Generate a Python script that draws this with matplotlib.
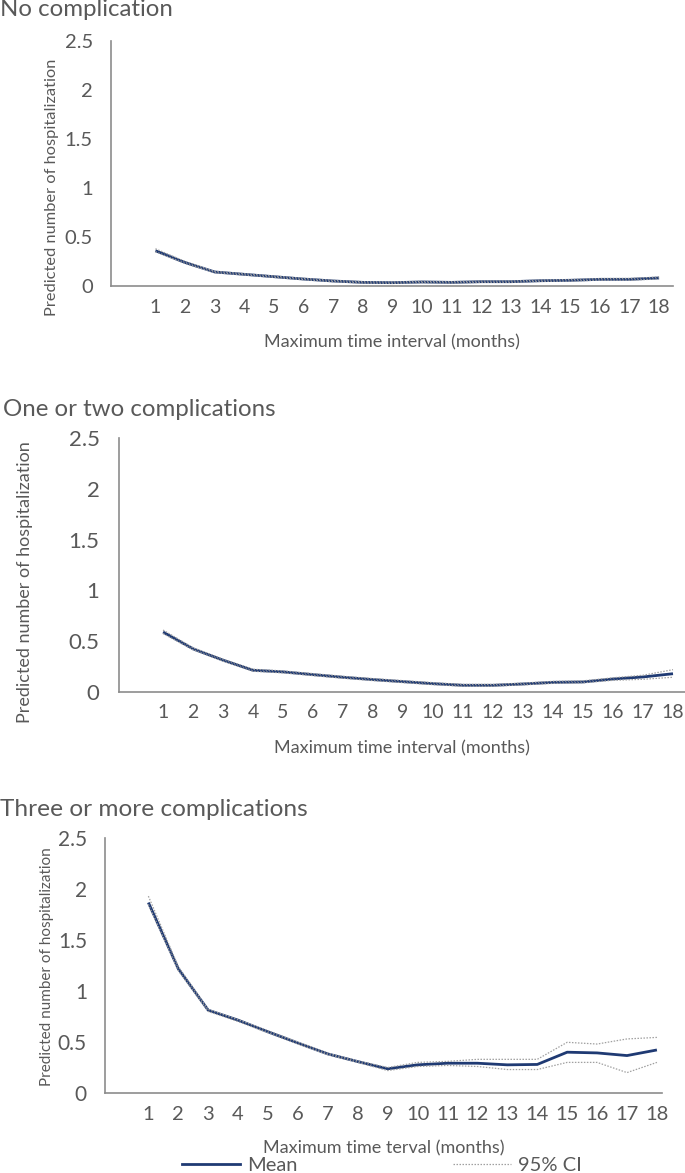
import matplotlib
matplotlib.use("Agg")
import matplotlib.pyplot as plt
from matplotlib.lines import Line2D

plt.rcParams['font.family'] = ['Lato', 'DejaVu Sans']

months = list(range(1, 19))

titles = ["No complication", "One or two complications", "Three or more complications"]
xlabels = ["Maximum time interval (months)", "Maximum time interval (months)",
           "Maximum time terval (months)"]
ylabel = "Predicted number of hospitalization"
yticks = [0, 0.5, 1, 1.5, 2, 2.5]
yticklabels = ["0", "0.5", "1", "1.5", "2", "2.5"]

mean_none = [0.36, 0.24, 0.143, 0.119, 0.095, 0.071, 0.051, 0.037, 0.034, 0.041,
             0.037, 0.044, 0.044, 0.054, 0.058, 0.068, 0.068, 0.082]
upper_none = [0.38, 0.25, 0.15, 0.126, 0.102, 0.078, 0.058, 0.044, 0.041, 0.048,
              0.044, 0.051, 0.051, 0.061, 0.066, 0.076, 0.077, 0.092]
lower_none = [0.35, 0.23, 0.136, 0.112, 0.088, 0.064, 0.044, 0.030, 0.027, 0.034,
              0.030, 0.037, 0.037, 0.047, 0.050, 0.060, 0.059, 0.072]

mean_12 = [0.59, 0.425, 0.313, 0.214, 0.198, 0.171, 0.145, 0.122, 0.102, 0.082,
           0.066, 0.066, 0.079, 0.095, 0.099, 0.128, 0.148, 0.18]
upper_12 = [0.61, 0.435, 0.323, 0.224, 0.208, 0.181, 0.155, 0.132, 0.112, 0.092,
            0.075, 0.075, 0.088, 0.105, 0.11, 0.14, 0.165, 0.22]
lower_12 = [0.575, 0.415, 0.303, 0.204, 0.188, 0.161, 0.135, 0.112, 0.092, 0.072,
            0.057, 0.057, 0.07, 0.085, 0.09, 0.115, 0.125, 0.145]

mean_3 = [1.867, 1.218, 0.812, 0.714, 0.60, 0.49, 0.383, 0.308, 0.237, 0.276,
          0.292, 0.292, 0.276, 0.28, 0.40, 0.393, 0.367, 0.422]
upper_3 = [1.93, 1.24, 0.82, 0.72, 0.61, 0.50, 0.39, 0.315, 0.25, 0.30,
           0.31, 0.33, 0.33, 0.33, 0.497, 0.48, 0.53, 0.545]
lower_3 = [1.85, 1.20, 0.80, 0.70, 0.59, 0.48, 0.375, 0.30, 0.22, 0.26,
           0.27, 0.26, 0.23, 0.23, 0.30, 0.30, 0.20, 0.30]

means = [mean_none, mean_12, mean_3]
uppers = [upper_none, upper_12, upper_3]
lowers = [lower_none, lower_12, lower_3]

W, H = 685, 1173
fig = plt.figure(figsize=(W / 100, H / 100), dpi=100)

def fx(x):
    return x / W

def fy(y):
    return 1 - y / H

TXT = '#595959'
SPINE = '#8c8c8c'
NAVY = '#1F3A73'
CI = '#a0a0a0'

# per panel layout (pixels)
layouts = [
    dict(l=111, r=673, t=41, b=286, xlim=(-0.5, 18.47), ytick_fs=14.5, xtick_fs=14,
         ypad=13, title_y=10, title_x=0, ylab_x=52, ylab_y=187, ylab_fs=11.8,
         xlab_y=342, xlab_fs=13, title_fs=17.3),
    dict(l=119, r=685, t=438, b=692, xlim=(-0.47, 18.4), ytick_fs=16, xtick_fs=14,
         ypad=14, title_y=410, title_x=3, ylab_x=25, ylab_y=582, ylab_fs=13,
         xlab_y=748, xlab_fs=13, title_fs=17.3),
    dict(l=105, r=662, t=838, b=1093, xlim=(-0.45, 18.17), ytick_fs=15, xtick_fs=14.5,
         ypad=13, title_y=810, title_x=0, ylab_x=47, ylab_y=967, ylab_fs=11,
         xlab_y=1148, xlab_fs=13, title_fs=17.6),
]

for i, L in enumerate(layouts):
    ax = fig.add_axes([fx(L['l']), fy(L['b']), fx(L['r'] - L['l']), (L['b'] - L['t']) / H])
    ax.set_xlim(*L['xlim'])
    ax.set_ylim(0, 2.5)
    ax.plot(months, means[i], color=NAVY, lw=2.0, zorder=2, solid_capstyle='butt')
    ax.plot(months, uppers[i], color=CI, lw=0.9, ls=(0, (1.2, 1.2)), zorder=3)
    ax.plot(months, lowers[i], color=CI, lw=0.9, ls=(0, (1.2, 1.2)), zorder=3)
    ax.set_xticks(months)
    ax.set_xticklabels([str(v) for v in months])
    ax.set_yticks(yticks)
    ax.set_yticklabels(yticklabels)
    ax.tick_params(axis='x', length=0, pad=9, labelsize=L['xtick_fs'], colors=TXT)
    ax.tick_params(axis='y', length=0, pad=L['ypad'], labelsize=L['ytick_fs'], colors=TXT)
    for s in ['top', 'right']:
        ax.spines[s].set_visible(False)
    for s in ['left', 'bottom']:
        ax.spines[s].set_color(SPINE)
        ax.spines[s].set_linewidth(1.2)
    ax.patch.set_alpha(0)
    fig.text(fx(L['title_x']), fy(L['title_y']), titles[i], ha='left', va='center',
             fontsize=L['title_fs'], color=TXT)
    fig.text(fx(L['ylab_x']), fy(L['ylab_y']), ylabel, rotation=90, ha='center',
             va='center', fontsize=L['ylab_fs'], color=TXT)
    fig.text(fx((L['l'] + L['r']) / 2), fy(L['xlab_y']), xlabels[i], ha='center',
             va='center', fontsize=L['xlab_fs'], color=TXT)

legend_handles = [Line2D([], [], color=NAVY, lw=2.0),
                  Line2D([], [], color=CI, lw=0.9, ls=(0, (1.2, 1.2)))]
fig.legend(legend_handles, ["Mean", "95% CI"], loc='center left',
           bbox_to_anchor=(fx(182), fy(1165)), ncol=2, frameon=False,
           borderpad=0, borderaxespad=0, handlelength=2.9, handletextpad=0.35,
           columnspacing=7.7, fontsize=14.5, labelcolor=TXT)

fig.savefig("out.png", dpi=100)
